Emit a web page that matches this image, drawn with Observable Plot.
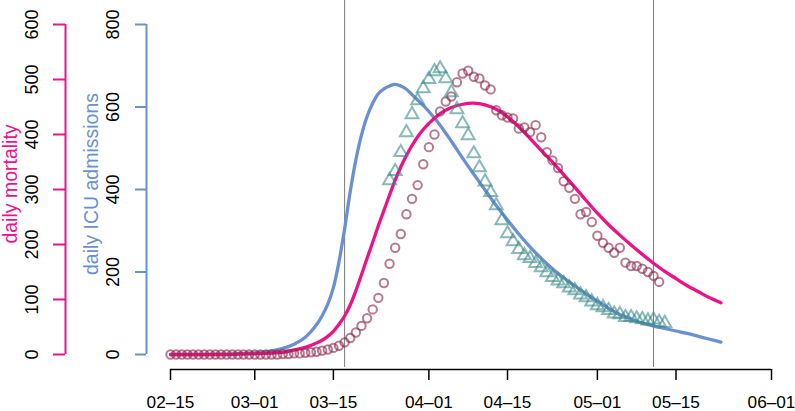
<!DOCTYPE html>
<html><head><meta charset="utf-8">
<script src="https://cdn.jsdelivr.net/npm/d3@7"></script>
<script src="https://cdn.jsdelivr.net/npm/@observablehq/plot@0.6"></script>
<style>html,body{margin:0;padding:0;background:#fff;} #chart svg{display:block}</style>
</head><body><div id="chart"></div>
<script>
// ---- data ----
const startDate = "2020-02-15";
const xTickDates = ["2020-02-15","2020-03-01","2020-03-15","2020-04-01","2020-04-15","2020-05-01","2020-05-15","2020-06-01"];
const xTickLabels = ["02\u201315","03\u201301","03\u201315","04\u201301","04\u201315","05\u201301","05\u201315","06\u201301"];
const interventionDates = ["2020-03-17","2020-05-11"];
const icuTicks = [0,200,400,600,800];
const mortalityTicks = [0,100,200,300,400,500,600];

// observed daily mortality, one value per day from 2020-02-15
const mortalityObserved = [
  0,0,0,0,0,0,0,0,0,0,0,0,0,0,0,0,0,0,0,0,
  1,1,2,2,3,4,5,7,9,12,
  16,22,30,40,52,66,82,103,130,165,
  194,219,255,283,308,346,377,400,442,460,
  469,495,511,516,505,502,489,482,444,435,
  431,429,411,413,404,417,395,368,353,339,
  315,303,283,255,259,241,216,203,194,185,
  194,167,161,161,156,150,143,132
];
// observed daily ICU admissions, one value per day from 2020-03-25
const icuObservedStart = "2020-03-25";
const icuObserved = [
  422,444,490,538,582,616,645,667,686,693,
  669,635,594,560,531,487,453,419,393,361,
  325,293,274,255,240,233,221,211,199,187,
  179,172,162,155,145,138,128,119,114,107,
  99,97,90,90,87,85,82,84,78,76
];
// model curves, day offsets from 2020-02-15
const modelDays = [0,2,4,6,8,10,12,14,16,18,20,22,24,26,27,28,29,30,31,32,33,34,35,36,37,38,39,40,41,42,43,44,45,46,48,50,52,54,56,58,60,62,64,66,68,70,72,74,76,78,80,82,84,86,88,90,92,94,96,98];
const icuModel = [0,0,0,0,1,1,2,3,5,9,15,25,42,72,94,122,162,225,305,395,472,532,577,609,632,644,651,655,651,643,630,617,604,589,556,517,476,437,399,361,326,292,261,233,208,186,166,147,129,112,97,86,76,69,63,57,51,44,37,30];
const mortalityModel = [0,0,0,0,0,0,0.5,1,1.5,2.5,4,8,13,21,26,33,42,55,70,90,116,145,175,204,234,262,290,317,341,362,380,396,409,420,438,449,455,457,454,446,432,414,393,371,350,327,304,280,257,236,217,199,182,166,151,138,125,114,103,94];

// ---- build ----
const ICU_MAX = 800, MORT_MAX = 600;
const toIcu = m => m * ICU_MAX / MORT_MAX;
const x0 = new Date(startDate);
const dayAt = (base, n) => d3.utcDay.offset(new Date(base), n);
const mortObs = mortalityObserved.map((v, i) => ({date: dayAt(startDate, i), v}));
const icuObs = icuObserved.map((v, i) => ({date: dayAt(icuObservedStart, i), v}));
const model = modelDays.map((d, i) => ({date: dayAt(startDate, d), icu: icuModel[i], mort: mortalityModel[i]}));
const xTicks = xTickDates.map(d => new Date(d));

const BLUE = "#6B90D1", PINK = "#EE1289", MAUVE = "#8E274A", TEAL = "#3A8A8B";
const FONT = "'Liberation Sans', Arial, Helvetica, sans-serif";

const chart = Plot.plot({
  width: 795, height: 411,
  marginTop: 0, marginBottom: 44, marginLeft: 146, marginRight: 24,
  style: {fontFamily: FONT, fontSize: "18px", color: "black", background: "white"},
  x: {type: "utc", domain: [xTicks[0], xTicks[xTicks.length - 1]], range: [170, 771]},
  y: {domain: [0, ICU_MAX], range: [354, 24]},
  marks: [
    Plot.ruleX(interventionDates.map(d => new Date(d)), {stroke: "#7a7a7a", strokeWidth: 1}),
    Plot.line(model, {x: "date", y: "icu", stroke: BLUE, strokeWidth: 3.3, curve: "catmull-rom"}),
    Plot.line(model, {x: "date", y: d => toIcu(d.mort), stroke: PINK, strokeWidth: 3.3, curve: "catmull-rom"}),
    Plot.dot(mortObs, {x: "date", y: d => toIcu(d.v), r: 4.2, stroke: MAUVE, strokeOpacity: 0.62, strokeWidth: 2, fill: "none"}),
    Plot.dot(icuObs, {x: "date", y: "v", symbol: "triangle", r: 4.8, stroke: TEAL, strokeOpacity: 0.6, strokeWidth: 2, fill: "none"}),
    // x axis
    Plot.ruleY([0], {x1: xTicks[0], x2: xTicks[xTicks.length - 1], dy: 15, stroke: "black", strokeWidth: 1.5}),
    Plot.axisX(xTicks, {anchor: "bottom", dy: 2, tickSize: 11, tickPadding: 15, strokeWidth: 1.5, fontSize: 17.2, label: null,
      tickFormat: d => xTickLabels[xTicks.findIndex(t => +t === +d)]}),
    // ICU axis
    Plot.ruleX([x0], {y1: 0, y2: ICU_MAX, dx: -24, stroke: BLUE, strokeWidth: 2}),
    Plot.axisY(icuTicks, {anchor: "left", tickSize: 11, tickPadding: 17, tickRotate: -90, stroke: BLUE, strokeWidth: 2, fill: "black", fontSize: 18, label: null, tickFormat: d => String(d)}),
    // mortality axis
    Plot.ruleX([x0], {y1: 0, y2: ICU_MAX, dx: -105, stroke: PINK, strokeWidth: 2}),
    Plot.axisY(mortalityTicks.map(toIcu), {anchor: "left", dx: -81, tickSize: 12, tickPadding: 16, tickRotate: -90, stroke: PINK, strokeWidth: 2, fill: "black", fontSize: 18, label: null, tickFormat: v => String(Math.round(v * MORT_MAX / ICU_MAX))}),
    // axis titles
    Plot.text(["daily ICU admissions"], {text: d => d, frameAnchor: "left", dx: -49, rotate: -90, textAnchor: "middle", lineAnchor: "bottom", fill: BLUE, fontSize: 19.5}),
    Plot.text(["daily mortality"], {text: d => d, frameAnchor: "left", dx: -130, rotate: -90, textAnchor: "middle", lineAnchor: "bottom", fill: PINK, fontSize: 19.5})
  ]
});
document.getElementById("chart").appendChild(chart);
</script>
</body></html>
